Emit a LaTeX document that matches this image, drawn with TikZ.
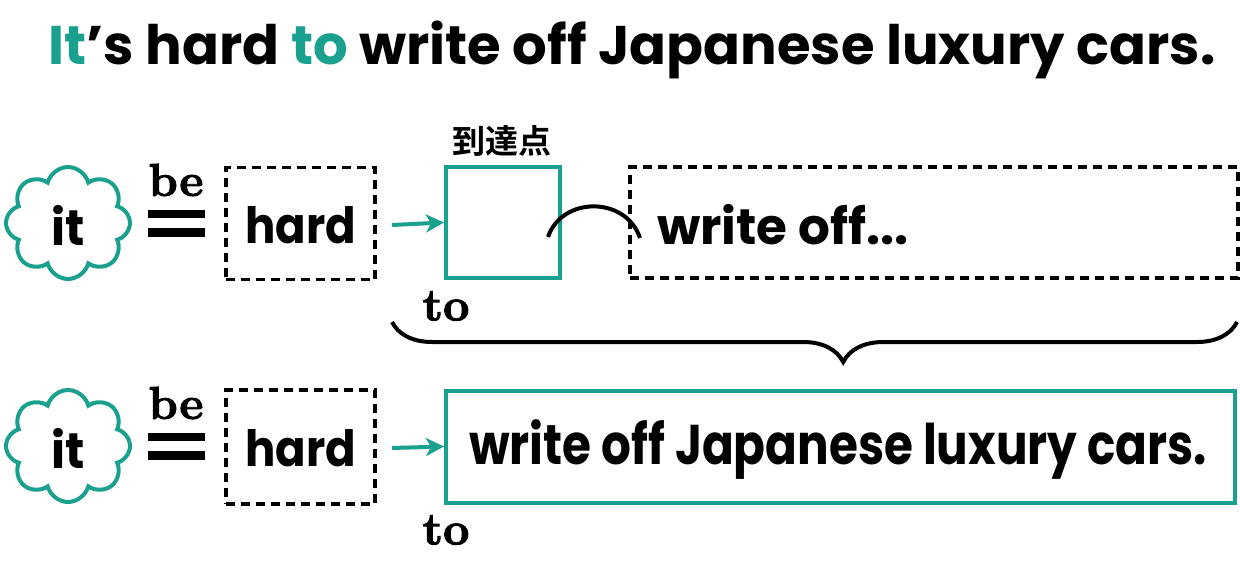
\documentclass[tikz,border=0pt]{standalone}
\usepackage{fontspec}
\setmainfont{Poppins}
\newfontfamily\lmrb{lmroman10-bold.otf}[FakeBold=2]
\newfontfamily\cjk{Noto Sans CJK JP Bold}
\usetikzlibrary{shapes.symbols,arrows.meta,decorations.pathreplacing}
\definecolor{tealc}{RGB}{26,160,142}
\begin{document}
\begin{tikzpicture}[x=1pt,y=-1pt,
  cloudbox/.style={cloud, cloud puffs=8, cloud puff arc=150, shape border rotate=22.5, draw=tealc, line width=4pt, minimum width=124pt, minimum height=112pt, aspect=1.1, inner sep=0pt},
  dashbox/.style={draw, line width=3.5pt, dash pattern=on 9pt off 6pt, inner sep=0pt},
  tealbox/.style={draw=tealc, line width=4pt, inner sep=0pt},
  sansbig/.style={font=\fontsize{50}{54}\selectfont\bfseries, inner sep=0pt},
  serifbig/.style={font=\lmrb\fontsize{46}{50}\selectfont, inner sep=0pt},
  tealarrow/.style={draw=tealc, line width=4pt, -{Stealth[length=18pt,width=18pt,inset=5pt]}},
  eqbar/.style={fill=black},
]
\useasboundingbox (0,0) rectangle (1240,573);
% title
\node[font=\fontsize{54.4}{60}\selectfont\bfseries, inner sep=0pt] (title) at (632,50)
  {\textcolor{tealc}{It}’s hard \textcolor{tealc}{to} write off Japanese luxury cars.};

% row 1
\node[cloudbox] (c1) at (68,223) {};
\node[sansbig] (it1) at (68,225) {\scalebox{0.95}[1]{it}};
\node[serifbig] (be1) at (176,180) {be};
\fill[eqbar] (148,210) rectangle (205,218);
\fill[eqbar] (148,228) rectangle (205,237);
\node[dashbox, minimum width=149pt, minimum height=112pt] (h1) at (300.5,223.5) {};
\node[sansbig] (hard1) at (301,225) {\scalebox{0.9}[1]{hard}};
\node[tealbox, minimum width=114pt, minimum height=111pt] (t1) at (503,222.5) {};
\coordinate (s1) at (392,225);
\draw[tealarrow] (s1) -- (t1.west);
\node[font=\cjk\fontsize{33}{36}\selectfont, inner sep=0pt] (jp) at (502,141) {到達点};
\node[serifbig] (to1) at (446,306) {to};
\node[dashbox, minimum width=608pt, minimum height=111pt] (w1) at (934,222.5) {};
\node[sansbig, anchor=west] (wo1) at (657,225) {write off...};
\coordinate (a1) at (548,237);
\coordinate (a2) at (640,238);
\draw[line width=4pt] (a1) .. controls (562,196) and (626,196) .. (a2);
% brace
\coordinate (b1) at (1237,322);
\coordinate (b2) at (392,322);
\draw[line width=4pt, decorate, decoration={brace, amplitude=40pt, aspect=0.466}] (b1) -- (b2);

% row 2
\node[cloudbox] (c2) at (68,446) {};
\node[sansbig] (it2) at (68,448) {\scalebox{0.95}[1]{it}};
\node[serifbig] (be2) at (176,403) {be};
\fill[eqbar] (148,433) rectangle (205,441);
\fill[eqbar] (148,451) rectangle (205,460);
\node[dashbox, minimum width=149pt, minimum height=114pt] (h2) at (300.5,447) {};
\node[sansbig] (hard2) at (301,448) {\scalebox{0.9}[1]{hard}};
\node[tealbox, minimum width=789pt, minimum height=112pt] (t2) at (840.5,446.5) {};
\coordinate (s2) at (392,448);
\draw[tealarrow] (s2) -- (t2.west);
\node[font=\fontsize{56}{60}\selectfont\bfseries, inner sep=0pt] (wo2) at (838,450) {\scalebox{0.837}[1]{write off Japanese luxury cars.}};
\node[serifbig] (to2) at (446,530) {to};
\end{tikzpicture}
\end{document}
